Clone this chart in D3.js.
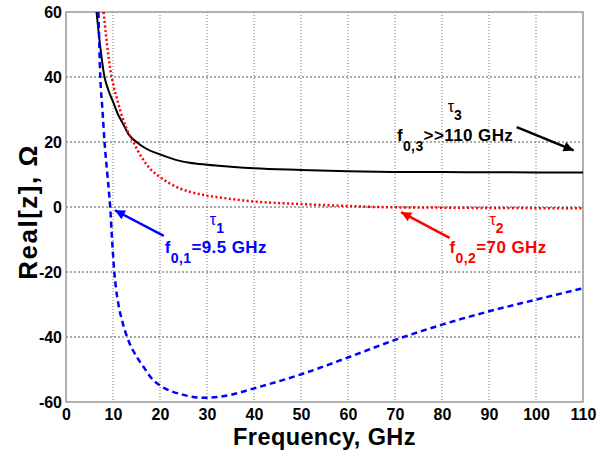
<!DOCTYPE html>
<html>
<head>
<meta charset="utf-8">
<script src="https://cdn.jsdelivr.net/npm/d3@7"></script>
<style>
  body { margin: 0; background: #fff; }
  text { font-family: "Liberation Sans", Arial, sans-serif; font-weight: bold; }
</style>
</head>
<body>
<svg id="canvas" width="600" height="456"></svg>
<script>
// curve readings (frequency in GHz, Real[z] in Ohm)
const freqBlack = [6.5, 7, 8.2, 9, 10, 11, 12.1, 13.4, 15, 17, 20, 24.2, 26.3, 30, 35, 40, 50, 60, 70, 80, 90, 100, 110];
const realBlack = [60, 53, 40, 36, 32.4, 28.7, 25.7, 22.2, 20, 18, 16.2, 14.2, 13.6, 13.0, 12.4, 11.9, 11.4, 11.0, 10.8, 10.75, 10.7, 10.65, 10.6];

const freqRed = [8.0, 8.5, 9.7, 10, 11, 12, 13.4, 14.3, 16, 18, 19.9, 22, 24.2, 26.3, 30, 35, 40, 50, 60, 66, 70, 80, 90, 100, 110];
const realRed = [60, 53, 40, 38, 32.5, 27.5, 22.5, 20, 15.5, 11.6, 9.3, 7.3, 5.7, 4.7, 3.5, 2.5, 1.7, 0.9, 0.3, 0, -0.1, -0.2, -0.3, -0.35, -0.4];

const freqBlue = [6.9, 7.3, 7.75, 8.2, 8.8, 9.4, 9.8, 10.25, 10.65, 11.1, 12.1, 13, 15, 16.4, 18.5, 20, 25, 29, 35, 40, 50, 60, 70, 80, 90, 100, 110];
const realBlue = [60, 40, 30, 20, 10, 0, -10, -19.5, -25.2, -29.5, -35.9, -40, -46, -49, -53.2, -54.9, -57.8, -58.7, -57.8, -55.8, -51.5, -46.3, -40.9, -36.2, -32.1, -28.5, -25];

const xTicks = [0, 10, 20, 30, 40, 50, 60, 70, 80, 90, 100, 110];
const yTicks = [-60, -40, -20, 0, 20, 40, 60];

const svg = d3.select("#canvas");
const pLeft = 66, pRight = 583, pTop = 12, pBottom = 402;

const x = d3.scaleLinear().domain([0, 110]).range([pLeft, pRight]);
const y = d3.scaleLinear().domain([-60, 60]).range([pBottom, pTop]);

const defs = svg.append("defs");
defs.append("clipPath").attr("id", "plot")
    .append("rect").attr("x", pLeft).attr("y", pTop)
    .attr("width", pRight - pLeft).attr("height", pBottom - pTop);

// grid
svg.append("g").selectAll("line").data(xTicks.slice(1, -1)).join("line")
    .attr("x1", d => x(d)).attr("x2", d => x(d))
    .attr("y1", pTop).attr("y2", pBottom)
    .attr("stroke", "#777").attr("stroke-width", 1).attr("stroke-dasharray", "1,2");
svg.append("g").selectAll("line").data(yTicks.slice(1, -1)).join("line")
    .attr("y1", d => y(d)).attr("y2", d => y(d))
    .attr("x1", pLeft).attr("x2", pRight)
    .attr("stroke", "#555").attr("stroke-width", 1).attr("stroke-dasharray", "2,2");

// axes (labels only)
const xAxis = svg.append("g").attr("transform", `translate(0,${pBottom})`)
    .call(d3.axisBottom(x).tickValues(xTicks).tickSize(0).tickPadding(7));
const yAxis = svg.append("g").attr("transform", `translate(${pLeft},0)`)
    .call(d3.axisLeft(y).tickValues(yTicks).tickSize(0).tickPadding(4).tickFormat(d => d < 0 ? "-" + Math.abs(d) : d));
[xAxis, yAxis].forEach(a => {
    a.select(".domain").remove();
    a.selectAll("text").attr("font-size", 16).attr("font-family", null).attr("fill", "#000");
});

svg.append("rect").attr("x", pLeft).attr("y", pTop)
    .attr("width", pRight - pLeft).attr("height", pBottom - pTop)
    .attr("fill", "none").attr("stroke", "#999").attr("stroke-width", 1.5);

// curves
const line = d3.line().x(d => x(d[0])).y(d => y(d[1])).curve(d3.curveMonotoneX);
const curves = svg.append("g").attr("clip-path", "url(#plot)");
curves.append("path").datum(d3.zip(freqBlack, realBlack)).attr("d", line)
    .attr("fill", "none").attr("stroke", "#000").attr("stroke-width", 2);
curves.append("path").datum(d3.zip(freqRed, realRed)).attr("d", line)
    .attr("fill", "none").attr("stroke", "#f00").attr("stroke-width", 2.5)
    .attr("stroke-dasharray", "2,2.5");
curves.append("path").datum(d3.zip(freqBlue, realBlue)).attr("d", line)
    .attr("fill", "none").attr("stroke", "#00f").attr("stroke-width", 2.5)
    .attr("stroke-dasharray", "6,4");

// annotations
["#00f", "#f00", "#000"].forEach((c, i) => {
    defs.append("marker").attr("id", "arr" + i)
        .attr("viewBox", "0 0 10 10").attr("refX", 10).attr("refY", 5)
        .attr("markerWidth", 14).attr("markerHeight", 10).attr("markerUnits", "userSpaceOnUse")
        .attr("orient", "auto")
        .append("path").attr("d", "M0,0L10,5L0,10Z").attr("fill", c);
});

function arrow(f1, v1, f2, v2, i, c) {
    svg.append("line")
        .attr("x1", x(f1)).attr("y1", y(v1)).attr("x2", x(f2)).attr("y2", y(v2))
        .attr("stroke", c).attr("stroke-width", 2.5).attr("marker-end", `url(#arr${i})`);
}

function label(f, v, sub, rest, c) {
    const t = svg.append("text").attr("x", x(f)).attr("y", y(v))
        .attr("fill", c).attr("font-size", 17).attr("letter-spacing", 0.4);
    t.append("tspan").text("f");
    t.append("tspan").attr("font-size", 14).attr("dy", 10).text(sub);
    t.append("tspan").attr("dy", -10).text(rest);
}

function tau(f, v, n, c) {
    const t = svg.append("text").attr("x", x(f)).attr("y", y(v)).attr("fill", c).attr("font-size", 16);
    t.append("tspan").attr("font-weight", "normal").text("τ");
    t.append("tspan").attr("font-size", 14).attr("dy", 8).text(n);
}

arrow(20.8, -8.9, 10.4, -1.0, 0, "#00f");
label(21, -14.2, "0,1", "=9.5 GHz", "#00f");
tau(30.6, -5.6, "1", "#00f");

arrow(81.6, -9.5, 71.3, -1.6, 1, "#f00");
label(81.6, -14.2, "0,2", "=70 GHz", "#f00");
tau(90.1, -5.5, "2", "#f00");

arrow(95.9, 24.6, 108, 17.4, 2, "#000");
label(70.4, 20.3, "0,3", ">>110 GHz", "#000");
tau(81.2, 29.1, "3", "#000");

// axis titles
svg.append("text").attr("x", x(55)).attr("y", 445)
    .attr("text-anchor", "middle").attr("font-size", 23.5).attr("letter-spacing", 0.4).text("Frequency, GHz");
svg.append("text").attr("transform", `translate(37,212) rotate(-90)`)
    .attr("text-anchor", "middle").attr("font-size", 26).attr("letter-spacing", 1.5).text("Real[z], Ω");
</script>
</body>
</html>
